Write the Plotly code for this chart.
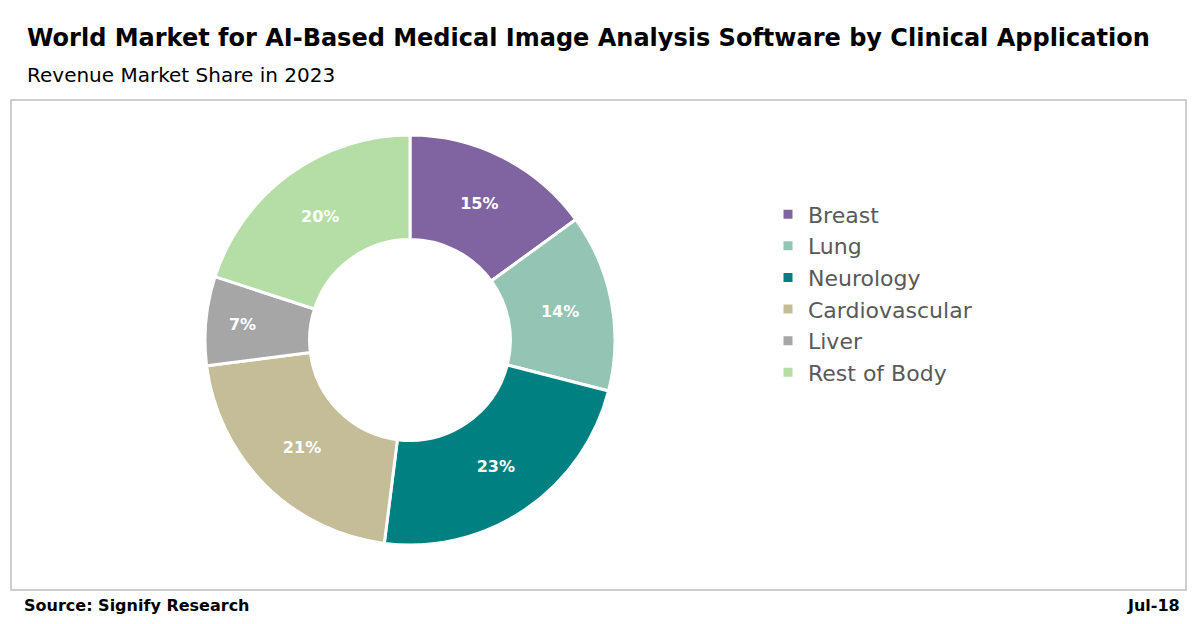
import plotly.graph_objects as go

labels = ["Breast", "Lung", "Neurology", "Cardiovascular", "Liver", "Rest of Body"]
values = [15, 14, 23, 21, 7, 20]
colors = ["#8064a2", "#93c4b4", "#008080", "#c4bd97", "#a6a6a6", "#b4dea5"]

W, H = 1200, 624
cx, cy, r = 410, 340, 205

fig = go.Figure(go.Pie(
    labels=labels, values=values, hole=0.49, sort=False, direction="clockwise",
    rotation=0, marker=dict(colors=colors, line=dict(color="white", width=3)),
    texttemplate="%{percent:.0%}", textposition="inside",
    textfont=dict(family="DejaVu Sans", size=16, color="white", weight="bold"),
    insidetextorientation="horizontal", hoverinfo="label+percent",
    domain=dict(x=[(cx - r) / W, (cx + r) / W], y=[(H - cy - r) / H, (H - cy + r) / H]),
))

fig.update_layout(
    width=W, height=H, margin=dict(l=0, r=0, t=0, b=0),
    paper_bgcolor="white", plot_bgcolor="white",
    legend=dict(x=0.64, y=0.69, yanchor="top", font=dict(family="DejaVu Sans", size=22, color="#595959"),
                itemwidth=30),
    shapes=[dict(type="rect", xref="paper", yref="paper", x0=11 / W, x1=1186 / W, y0=1 - 590 / H, y1=1 - 100 / H,
                 line=dict(color="#bfbfbf", width=1.5))],
    annotations=[
        dict(text="<b>World Market for AI-Based Medical Image Analysis Software by Clinical Application</b>",
             x=25 / W, y=1 - 38 / H, xref="paper", yref="paper", xanchor="left", yanchor="middle", showarrow=False,
             font=dict(family="DejaVu Sans", size=24, color="black")),
        dict(text="Revenue Market Share in 2023", x=25 / W, y=1 - 75 / H, xref="paper", yref="paper",
             xanchor="left", yanchor="middle", showarrow=False, font=dict(family="DejaVu Sans", size=20, color="black")),
        dict(text="<b>Source: Signify Research</b>", x=22 / W, y=1 - 605 / H, xref="paper", yref="paper",
             xanchor="left", yanchor="middle", showarrow=False, font=dict(family="DejaVu Sans", size=16, color="black")),
        dict(text="<b>Jul-18</b>", x=1182 / W, y=1 - 605 / H, xref="paper", yref="paper",
             xanchor="right", yanchor="middle", showarrow=False, font=dict(family="DejaVu Sans", size=16, color="black")),
    ],
)
fig.write_html("out.html", config={"displayModeBar": False})
with open("out.html", encoding="utf-8") as f:
    html = f.read()
html = html.replace("<head>", "<head><style>html,body{margin:0;padding:0;overflow:hidden;}</style>", 1)
with open("out.html", "w", encoding="utf-8") as f:
    f.write(html)
